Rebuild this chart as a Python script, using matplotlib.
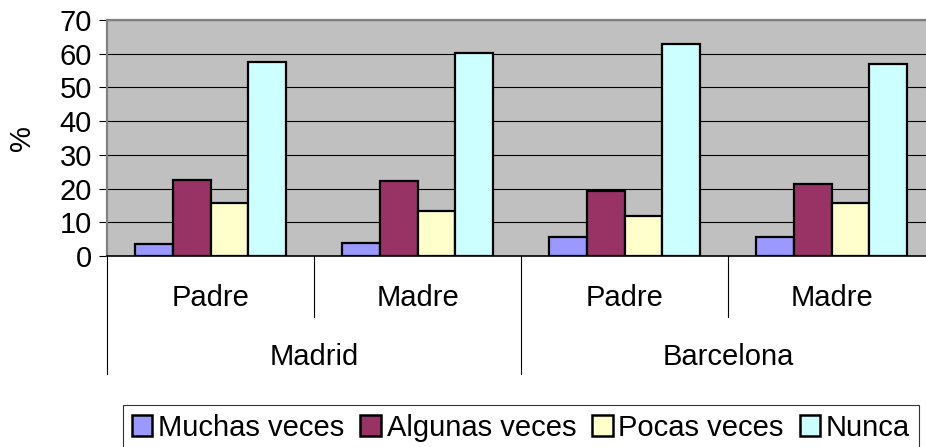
import matplotlib

matplotlib.use("Agg")
import matplotlib.pyplot as plt
import matplotlib.transforms as mtransforms
from matplotlib.patches import Patch

plt.rcParams["font.family"] = ["Liberation Sans", "DejaVu Sans"]

# Data
cities = ["Madrid", "Barcelona"]
parents = ["Padre", "Madre", "Padre", "Madre"]
series_labels = ["Muchas veces", "Algunas veces", "Pocas veces", "Nunca"]
muchas = [3.6, 4.0, 5.5, 5.7]
algunas = [22.4, 22.1, 19.2, 21.4]
pocas = [15.8, 13.2, 11.8, 15.7]
nunca = [57.5, 60.2, 62.9, 56.9]
yticks = [0, 10, 20, 30, 40, 50, 60, 70]

series = [muchas, algunas, pocas, nunca]
colors = ["#9999FF", "#993366", "#FFFFCC", "#CCFFFF"]
fs = 21

fig = plt.figure(figsize=(9.26, 4.47), dpi=100)
ax = fig.add_axes([0.1156, 0.4273, 0.8942, 0.528])
ax.set_facecolor("#C0C0C0")

x = list(range(len(parents)))
width = 0.182
for i, vals in enumerate(series):
    offset = (i - 1.5) * width
    ax.bar(
        [p + offset for p in x],
        vals,
        width,
        color=colors[i],
        edgecolor="black",
        linewidth=1.6,
        zorder=3,
    )

ax.set_xlim(-0.5, len(parents) - 0.5)
ax.set_ylim(0, 70)
ax.set_yticks(yticks)
ax.tick_params(axis="y", labelsize=fs, length=6, width=0.8, pad=5, direction="out")
ax.set_xticks([])
ax.yaxis.grid(True, color="black", linewidth=0.8, zorder=1)
ax.set_axisbelow(True)

for side in ["top", "left", "right"]:
    ax.spines[side].set_color("#808080")
    ax.spines[side].set_linewidth(1.6)
ax.spines["bottom"].set_color("black")
ax.spines["bottom"].set_linewidth(1.2)
ax.spines["bottom"].set_zorder(4)

fig.text(22 / 926, 1 - 138 / 447, "%", rotation=90, ha="center", va="center", fontsize=fs)

# Two-level category axis
trans = mtransforms.blended_transform_factory(ax.transData, ax.transAxes)
for k, lab in enumerate(parents):
    ax.text(k, -0.18, lab, transform=trans, ha="center", va="center", fontsize=fs)
for k in [0.5, 2.5]:
    ax.plot([k, k], [0, -0.26], transform=trans, color="black", lw=0.8, clip_on=False)
for k in [-0.5, 1.5, 3.5]:
    ax.plot([k, k], [0, -0.5], transform=trans, color="black", lw=0.8, clip_on=False)
for j, city in enumerate(cities):
    ax.text(0.5 + 2 * j, -0.43, city, transform=trans, ha="center", va="center", fontsize=fs)

handles = [Patch(facecolor=c, edgecolor="black", linewidth=1.8) for c in colors]
leg = fig.legend(
    handles,
    series_labels,
    loc="upper center",
    bbox_to_anchor=(0.5626, 0.094),
    ncol=4,
    fontsize=fs,
    frameon=True,
    fancybox=False,
    handlelength=0.7,
    handleheight=0.7,
    handletextpad=0.2,
    columnspacing=0.55,
    borderpad=0.3,
    borderaxespad=0,
)
leg.get_frame().set_edgecolor("black")
leg.get_frame().set_linewidth(0.8)

plt.savefig("out.png", dpi=100, facecolor="white")
plt.close()
